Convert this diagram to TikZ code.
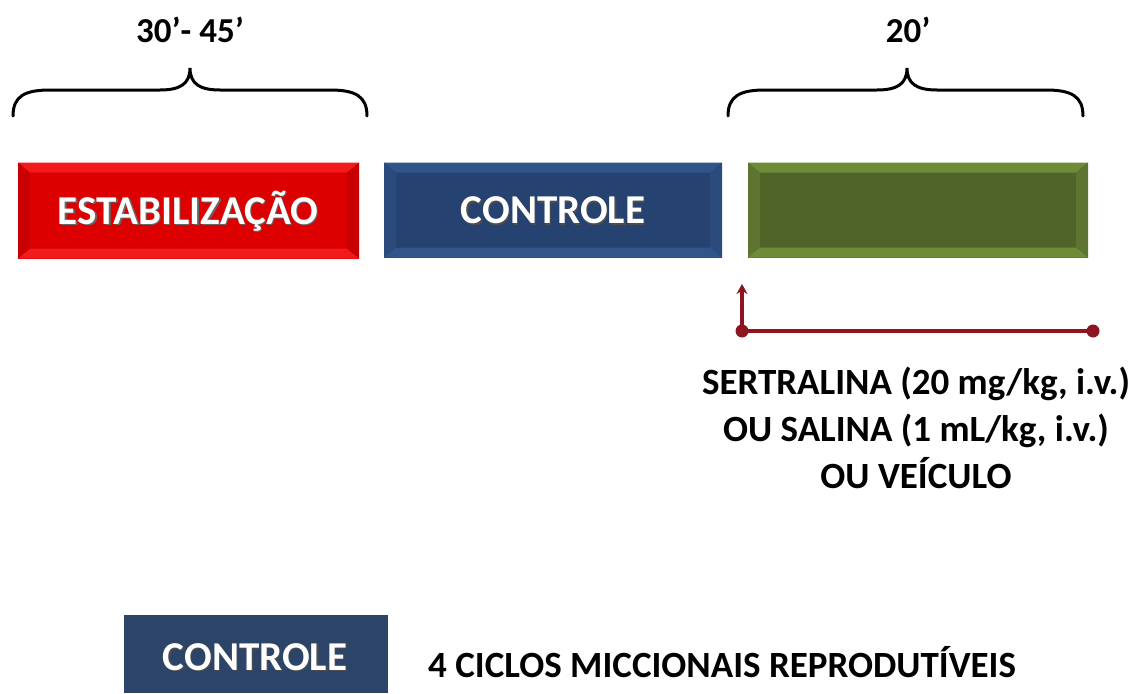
\documentclass[tikz,border=0pt]{standalone}
\usepackage{fontspec}
\setmainfont{Carlito}
\usetikzlibrary{arrows.meta,calc}
\definecolor{redM}{HTML}{DC0000}
\definecolor{redL}{HTML}{F21A1A}
\definecolor{redD}{HTML}{C80000}
\definecolor{blueM}{HTML}{254270}
\definecolor{blueL}{HTML}{31558A}
\definecolor{blueD}{HTML}{2A4B7C}
\definecolor{greenM}{HTML}{506329}
\definecolor{greenL}{HTML}{6E8C38}
\definecolor{greenD}{HTML}{5D7530}
\definecolor{navy}{HTML}{2B4468}
\definecolor{wine}{HTML}{8C1520}
\tikzset{
  bevel/.style n args={3}{rectangle, inner sep=0pt, fill=#1, text=white,
    font=\fontsize{41}{48}\selectfont\bfseries,
    path picture={
      \fill[#2] (path picture bounding box.north west) -- (path picture bounding box.north east)
        -- ++(-10pt,-10pt) -- ($(path picture bounding box.north west)+(10pt,-10pt)$) -- cycle;
      \fill[#2] (path picture bounding box.south west) -- (path picture bounding box.south east)
        -- ++(-10pt,10pt) -- ($(path picture bounding box.south west)+(10pt,10pt)$) -- cycle;
      \fill[#3] (path picture bounding box.north west) -- (path picture bounding box.south west)
        -- ++(12pt,10pt) -- ($(path picture bounding box.north west)+(12pt,-10pt)$) -- cycle;
      \fill[#3] (path picture bounding box.north east) -- (path picture bounding box.south east)
        -- ++(-12pt,10pt) -- ($(path picture bounding box.north east)+(-12pt,-10pt)$) -- cycle;
    }},
  boxtext/.style={font=\fontsize{41}{48}\selectfont\bfseries, text=white},
  brace/.style={line width=3pt, line cap=round, black},
  label/.style={font=\fontsize{35}{40}\selectfont\bfseries, text=black, inner sep=0pt},
  note/.style={font=\fontsize{37}{47}\selectfont\bfseries, text=black, align=center, inner sep=0pt},
  conn/.style={wine, line width=3.8pt},
  dot/.style={circle, fill=wine, inner sep=0pt, minimum size=13pt}
}
\begin{document}
\begin{tikzpicture}[x=1pt,y=-1pt]
\useasboundingbox (0,0) rectangle (1137,693);
% boxes
\node[bevel={redM}{redL}{redD}, minimum width=341pt, minimum height=96pt] (estab) at (188.5,210.5) {};
\node[boxtext, text=black!60] at (189.5,212.5) {ESTABILIZAÇÃO};
\node[boxtext] (estabt) at (188,211) {ESTABILIZAÇÃO};
\node[bevel={blueM}{blueL}{blueD}, minimum width=338pt, minimum height=95pt] (ctrl) at (553,210) {};
\node[boxtext, text=black!70] at (554.5,212) {CONTROLE};
\node[boxtext] (ctrlt) at (553,210.5) {CONTROLE};
\node[bevel={greenM}{greenL}{greenD}, minimum width=340pt, minimum height=95pt] (trat) at (918,210) {};
% braces
\draw[brace] (13,116) .. controls (13,96) and (25,90) .. (50,90) -- (160,90)
  .. controls (180,90) and (190,84) .. (190,68)
  .. controls (190,84) and (200,90) .. (220,90) -- (330,90)
  .. controls (355,90) and (367,96) .. (367,116);
\draw[brace] (728,116) .. controls (728,96) and (740,90) .. (765,90) -- (877,90)
  .. controls (897,90) and (907,84) .. (907,68)
  .. controls (907,84) and (917,90) .. (937,90) -- (1046,90)
  .. controls (1071,90) and (1083,96) .. (1083,116);
\node[label] (t1) at (190,30) {30’- 45’};
\node[label] (t2) at (908,30) {20’};
% administration marker
\node[dot] (p0) at (742,331) {};
\node[dot] (p1) at (1093,331) {};
\coordinate (up) at (742,284);
\draw[conn] (p0.center) -- (p1.center);
\draw[conn, -{Stealth[length=10pt,width=11pt]}] (p0.center) -- (up);
\node[note] (drug) at (916,428) {SERTRALINA (20 mg/kg, i.v.)\\OU SALINA (1 mL/kg, i.v.)\\OU VEÍCULO};
% legend
\fill[navy] (124,615) rectangle (388,693);
\node[boxtext, text=black!70] at (256.5,658.5) {CONTROLE};
\node[boxtext] (leg) at (255,657) {CONTROLE};
\node[anchor=west, font=\fontsize{37}{45}\selectfont\bfseries, inner sep=0pt] (legt) at (428,662) {4 CICLOS MICCIONAIS REPRODUTÍVEIS};
\end{tikzpicture}
\end{document}
